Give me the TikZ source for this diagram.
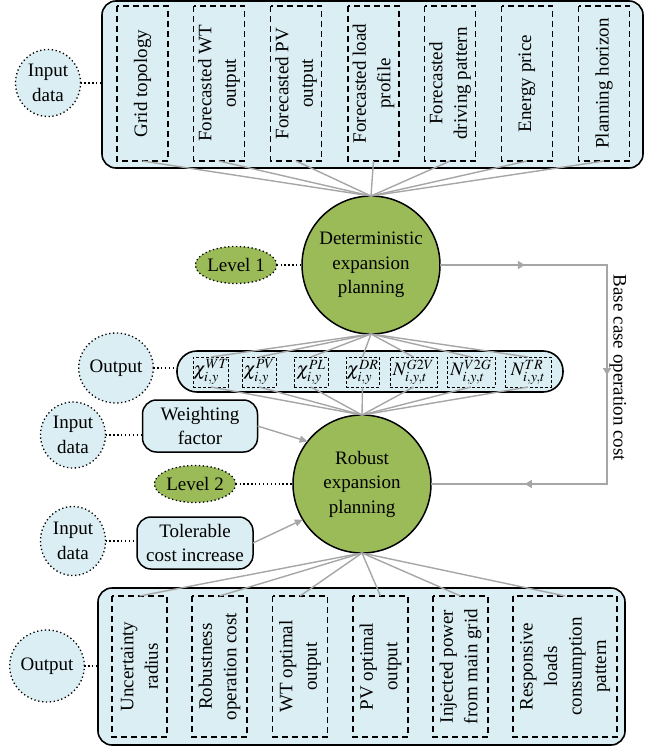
\documentclass[tikz,border=0pt]{standalone}
\usepackage{mathptmx}
\usepackage{fontspec}
\setmainfont{Liberation Serif}
\usetikzlibrary{shapes.geometric,arrows.meta,decorations.markings}
\definecolor{lblue}{HTML}{DAEEF3}
\definecolor{lgreen}{HTML}{9BBB59}
\definecolor{lgray}{HTML}{A6A6A6}
\begin{document}
\begin{tikzpicture}[x=1pt,y=-1pt,
  every node/.style={font=\fontsize{19}{24.5}\selectfont, inner sep=0pt, outer sep=0pt},
  container/.style={draw=black, line width=1.6pt, fill=lblue, rounded corners=14pt},
  dbox/.style={draw=black, line width=1.5pt, dash pattern=on 6pt off 4pt, rotate=90, align=center},
  sbox/.style={draw=black, line width=0.8pt, dash pattern=on 3pt off 2pt, minimum height=30pt},
  bubble/.style={draw=black, line width=1.3pt, dash pattern=on 1.3pt off 2.6pt, fill=lblue, ellipse, align=center},
  lev/.style={draw=black, line width=1.3pt, dash pattern=on 1.3pt off 2.6pt, fill=lgreen, ellipse, minimum width=80pt, minimum height=37pt},
  bigc/.style={draw=black, line width=1.5pt, fill=lgreen, circle, minimum size=138pt, align=center},
  rbox/.style={draw=black, line width=1.5pt, fill=lblue, rounded corners=14pt, align=center},
  gline/.style={draw=lgray, line width=1.4pt},
  dotline/.style={draw=black, line width=1.3pt, dash pattern=on 1.3pt off 2.6pt},
  tip/.style={-{Triangle[length=8pt,width=7pt]}},
  loopmarks/.style={postaction={decorate}, decoration={markings,
     mark=at position 0.151 with {\arrow{Triangle[length=7pt,width=8pt]}},
     mark=at position 0.493 with {\arrow{Triangle[length=7pt,width=8pt]}},
     mark=at position 0.833 with {\arrow{Triangle[length=7pt,width=8pt]}}}}
]
\useasboundingbox (0,0) rectangle (655,752);

% ---------- top input block ----------
\node[container, minimum width=541pt, minimum height=167pt] (topbox) at (372.5,84.5) {};
\node[bubble, minimum width=65pt, minimum height=67pt] (in1) at (48,83) {Input\\data};
\foreach \n/\x/\t in {t1/142.5/{Grid topology},
                      t2/219/{Forecasted WT\\output},
                      t3/296/{Forecasted PV\\output},
                      t4/373.5/{Forecasted load\\profile},
                      t5/450/{Forecasted\\driving pattern},
                      t6/527/{Energy price},
                      t7/604/{Planning horizon}}
  \node[dbox, minimum width=155pt, minimum height=51pt] (\n) at (\x,83.5) {\t};

% ---------- level 1 ----------
\node[bigc] (det) at (371,265) {Deterministic\\expansion\\planning};
\node[lev] (lev1) at (236,265) {Level 1};

% ---------- output row ----------
\node[container, rounded corners=20pt, minimum width=386pt, minimum height=41pt] (outrow) at (370,371.5) {};
\node[bubble, minimum width=66pt, minimum height=70pt] (out1) at (116,368) {Output};
\node[sbox, minimum width=34pt] (o1) at (211,372) {$\chi^{WT}_{i,y}$};
\node[sbox, minimum width=34pt] (o2) at (259,372) {$\chi^{PV}_{i,y}$};
\node[sbox, minimum width=34pt] (o3) at (311,372) {$\chi^{PL}_{i,y}$};
\node[sbox, minimum width=33pt] (o4) at (362.5,372) {$\chi^{DR}_{i,y}$};
\node[sbox, minimum width=47pt] (o5) at (413.5,372) {$N^{G2V}_{i,y,t}$};
\node[sbox, minimum width=48pt] (o6) at (471,372) {$N^{V2G}_{i,y,t}$};
\node[sbox, minimum width=46pt] (o7) at (528,372) {$N^{TR}_{i,y,t}$};

% ---------- level 2 ----------
\node[bigc] (rob) at (362,484) {Robust\\expansion\\planning};
\node[lev] (lev2) at (195,484) {Level 2};
\node[bubble, minimum width=65pt, minimum height=66pt] (in2) at (73,435) {Input\\data};
\node[rbox, minimum width=115pt, minimum height=52pt] (wf) at (200,426) {Weighting\\factor};
\node[bubble, minimum width=65pt, minimum height=69pt] (in3) at (73,541) {Input\\data};
\node[rbox, minimum width=116pt, minimum height=52pt] (tol) at (195,543) {Tolerable\\cost increase};

% ---------- bottom output block ----------
\node[container, minimum width=527pt, minimum height=157pt] (botbox) at (361.5,666.5) {};
\node[bubble, minimum width=67pt, minimum height=72pt] (out2) at (47,666) {Output};
\foreach \n/\x/\w/\t in {b1/139.5/55/{Uncertainty\\radius},
                         b2/219.5/55/{Robustness\\operation cost},
                         b3/300/55/{WT optimal\\output},
                         b4/380.5/55/{PV optimal\\output},
                         b5/460.5/55/{Injected power\\from main grid},
                         b6/565/104/{Responsive\\loads\\consumption\\pattern}}
  \node[dbox, minimum width=141pt, minimum height=\w pt] (\n) at (\x,666.5) {\t};

% ---------- feedback loop ----------
\coordinate (fb1) at (607,265);
\coordinate (fb2) at (607,484);
\draw[gline, loopmarks] (det.east) -- (fb1) -- (fb2) -- (rob.east);
\node[rotate=-90] (bclabel) at (618,368) {Base case operation cost};

% ---------- connectors ----------
\foreach \n in {t1,t2,t3,t4,t5,t6,t7} \draw[gline] (\n.west) -- (det.north);
\foreach \n in {o1,o2,o3,o4,o5,o6,o7} \draw[gline] (det.south) -- (\n.north);
\foreach \n in {o1,o2,o3,o4,o5,o6,o7} \draw[gline] (\n.south) -- (rob.north);
\foreach \n in {b1,b2,b3,b4,b5,b6} \draw[gline] (rob.south) -- (\n.east);
\draw[gline, tip] (wf.east) -- (rob.142);
\draw[gline, tip] (tol.east) -- (rob.211);

\draw[dotline] (in1.east) -- (in1.east -| topbox.west);
\draw[dotline] (lev1) -- (det);
\draw[dotline] (out1.east) -- (out1.east -| outrow.west);
\draw[dotline] (in2.east) -- (in2.east -| wf.west);
\draw[dotline] (lev2) -- (rob);
\draw[dotline] (in3.east) -- (in3.east -| tol.west);
\draw[dotline] (out2.east) -- (out2.east -| botbox.west);
\end{tikzpicture}
\end{document}
